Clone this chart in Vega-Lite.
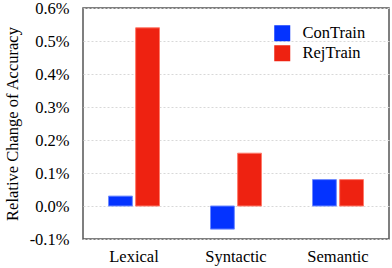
{
  "$schema": "https://vega.github.io/schema/vega-lite/v6.json",
  "width": 306,
  "height": 231,
  "autosize": {"type": "none"},
  "padding": {"left": 83, "top": 8, "right": 3, "bottom": 29},
  "background": "white",
  "data": {
    "values": [
      {"category": "Lexical", "method": "ConTrain", "change": 0.0003},
      {"category": "Lexical", "method": "RejTrain", "change": 0.0054},
      {"category": "Syntactic", "method": "ConTrain", "change": -0.0007},
      {"category": "Syntactic", "method": "RejTrain", "change": 0.0016},
      {"category": "Semantic", "method": "ConTrain", "change": 0.0008},
      {"category": "Semantic", "method": "RejTrain", "change": 0.0008}
    ]
  },
  "mark": {"type": "bar", "strokeWidth": 1},
  "encoding": {
    "x": {
      "field": "category",
      "type": "nominal",
      "sort": ["Lexical", "Syntactic", "Semantic"],
      "scale": {"paddingInner": 0.5, "paddingOuter": 0.25},
      "axis": {"title": null, "labelAngle": 0, "ticks": false, "domain": false, "labelPadding": 9, "grid": false}
    },
    "xOffset": {
      "field": "method",
      "type": "nominal",
      "scale": {"paddingInner": 0.12}
    },
    "y": {
      "field": "change",
      "type": "quantitative",
      "scale": {"domain": [-0.001, 0.006], "nice": false, "zero": false},
      "axis": {
        "title": "Relative Change of Accuracy",
        "format": ".1%",
        "labelExpr": "replace(datum.label, '\u2212', '-')",
        "values": [-0.001, 0, 0.001, 0.002, 0.003, 0.004, 0.005, 0.006],
        "ticks": false,
        "domain": false,
        "labelPadding": 14,
        "grid": true,
        "gridColor": "#d8d8d8",
        "gridDash": [2, 2],
        "gridWidth": 1,
        "titlePadding": 9
      }
    },
    "color": {
      "field": "method",
      "type": "nominal",
      "scale": {"domain": ["ConTrain", "RejTrain"], "range": ["#0433ff", "#ee2211"]},
      "legend": {
        "title": null,
        "orient": "none",
        "legendX": 191,
        "legendY": 17,
        "symbolType": "square",
        "symbolSize": 256,
        "symbolStrokeWidth": 0,
        "symbolOpacity": 1,
        "labelOffset": 12,
        "rowPadding": 3,
        "padding": 0
      }
    },
    "stroke": {
      "field": "method",
      "type": "nominal",
      "scale": {"domain": ["ConTrain", "RejTrain"], "range": ["#6f8bff", "#ff7a6a"]},
      "legend": null
    }
  },
  "config": {
    "view": {"stroke": "#555555", "strokeWidth": 1.5},
    "font": "Times New Roman",
    "axis": {"labelFont": "Times New Roman", "titleFont": "Times New Roman", "labelFontSize": 16.5, "titleFontSize": 16.5, "labelColor": "#000000", "titleColor": "#000000", "titleFontWeight": "normal"},
    "legend": {"labelFont": "Times New Roman", "labelFontSize": 16.5, "labelColor": "#000000"}
  }
}
